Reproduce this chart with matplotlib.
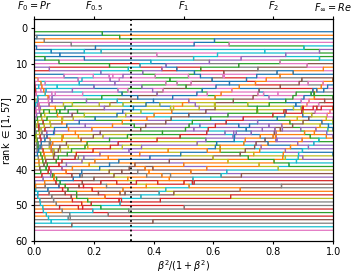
import matplotlib
matplotlib.use("Agg")
import matplotlib.pyplot as plt
import numpy as np

# precision / recall of the 57 systems (approximate)
precision = [0.95, 0.945, 0.97, 0.88, 0.84, 0.72, 0.93, 0.952, 0.82, 0.83,
             0.908, 0.40, 0.74, 0.85, 0.71, 0.55, 0.90, 0.78, 0.68, 0.92,
             0.86, 0.35, 0.92, 0.83, 0.80, 0.45, 0.82, 0.72, 0.76, 0.30,
             0.932, 0.86, 0.77, 0.50, 0.78, 0.45, 0.79, 0.80, 0.66, 0.80,
             0.50, 0.66, 0.76, 0.40, 0.89, 0.64, 0.84, 0.35, 0.73, 0.60,
             0.70, 0.55, 0.62, 0.60, 0.58, 0.25, 0.10]
recall = [0.975, 0.97, 0.91, 0.78, 0.40, 0.88, 0.93, 0.80, 0.25, 0.62,
          0.95, 0.84, 0.90, 0.15, 0.69, 0.45, 0.86, 0.20, 0.64, 0.89,
          0.64, 0.78, 0.70, 0.10, 0.63, 0.35, 0.81, 0.33, 0.74, 0.76,
          0.74, 0.30, 0.60, 0.40, 0.92, 0.80, 0.77, 0.06, 0.58, 0.93,
          0.82, 0.87, 0.12, 0.30, 0.66, 0.84, 0.76, 0.20, 0.76, 0.035,
          0.86, 0.74, 0.80, 0.78, 0.74, 0.08, 0.02]

top_ticks = [0, 0.2, 0.5, 0.8, 1.0]
top_labels = ["$F_0 = Pr$", "$F_{0.5}$", "$F_1$", "$F_2$", r"$F_\infty = Re$"]
chosen_x = 0.325

plt.rcParams["font.size"] = 7
plt.rcParams["xtick.major.size"] = 2.5
plt.rcParams["ytick.major.size"] = 2.5
plt.rcParams["xtick.major.pad"] = 2
plt.rcParams["ytick.major.pad"] = 2

P = np.array(precision)
R = np.array(recall)
n = len(P)

# x = beta^2 / (1 + beta^2), F_beta is a weighted harmonic mean of P and R
xs = np.linspace(0, 1, 1001)
inv_f = (1 - xs)[:, None] / P[None, :] + xs[:, None] / R[None, :]
order = np.argsort(inv_f, axis=1, kind="stable")
ranks = np.empty_like(order)
np.put_along_axis(ranks, order, np.tile(np.arange(1, n + 1), (len(xs), 1)), axis=1)

fig = plt.figure(figsize=(3.54, 2.76), dpi=100)
ax = fig.add_axes([0.096, 0.127, 0.845, 0.803])

for i in range(n):
    ax.plot(xs, ranks[:, i], drawstyle="steps-mid", lw=0.9)

ax.axvline(chosen_x, color="black", ls=":", lw=1.3)

ax.set_xlim(0, 1)
ax.set_ylim(60, -2.5)
ax.set_xlabel(r"$\beta^2/(1+\beta^2)$", labelpad=1)
ax.set_ylabel(r"rank $\in [1, 57]$", labelpad=1)

ax2 = ax.twiny()
ax2.set_xlim(0, 1)
ax2.set_xticks(top_ticks)
ax2.set_xticklabels(top_labels)

fig.savefig("out.png", dpi=100)
